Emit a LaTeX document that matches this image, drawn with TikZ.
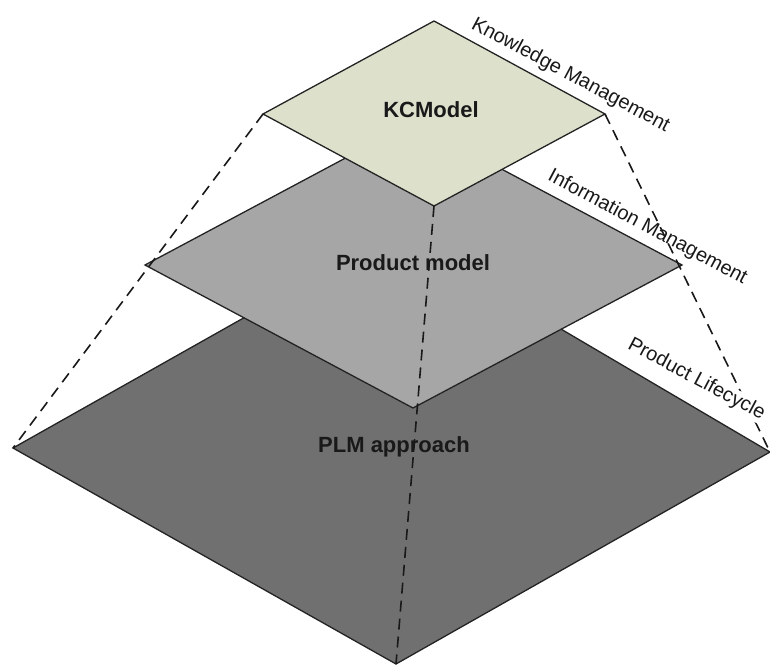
\documentclass[tikz,border=0pt]{standalone}
\usepackage{fontspec}
\setmainfont{Liberation Sans}
\definecolor{kcfill}{RGB}{221,225,204}
\definecolor{pmfill}{RGB}{166,166,166}
\definecolor{plmfill}{RGB}{112,112,112}
\definecolor{edgec}{RGB}{35,35,35}
\begin{document}
\begin{tikzpicture}[x=1pt,y=-1pt,
  layer/.style={draw=edgec,line width=1.3pt,line join=miter},
  guide/.style={draw=black!90,line width=1.6pt,dash pattern=on 11pt off 7pt},
  title/.style={font=\bfseries\fontsize{22}{26}\selectfont,text=black!90,inner sep=0pt},
  tag/.style={font=\fontsize{20}{24}\selectfont,text=black!90,rotate=-28,anchor=base,inner sep=1pt}]
\useasboundingbox (0,0) rectangle (770,666);
% PLM layer
\coordinate (pT) at (396,232);
\coordinate (pL) at (13,448);
\coordinate (pR) at (770,452);
\coordinate (pB) at (396,664);
% Product model layer
\coordinate (mT) at (413,122);
\coordinate (mL) at (145,265);
\coordinate (mR) at (682,265);
\coordinate (mB) at (413,408);
% KCModel layer
\coordinate (kT) at (434,21);
\coordinate (kL) at (263,114);
\coordinate (kR) at (605,114);
\coordinate (kB) at (434,206);
\path[layer,fill=plmfill] (pT) -- (pR) -- (pB) -- (pL) -- cycle;
\path[layer,fill=pmfill] (mT) -- (mR) -- (mB) -- (mL) -- cycle;
\path[layer,fill=kcfill] (kT) -- (kR) -- (kB) -- (kL) -- cycle;
% guide lines
\draw[guide] (kL) -- (pL);
\draw[guide] (kB) -- (pB);
\draw[guide] (kR) -- (pR);
% titles
\node[title] (kc) at (431,110) {KCModel};
\node[title] (pm) at (413,263) {Product model};
\node[title] (plm) at (394,447) {PLM approach};
% edge labels
\node[tag] (km) at (568,80) {Knowledge Management};
\node[tag] (im) at (645,232) {Information Management};
\node[tag,fill=white] (pl) at (694,384) {Product Lifecycle};
\end{tikzpicture}
\end{document}
